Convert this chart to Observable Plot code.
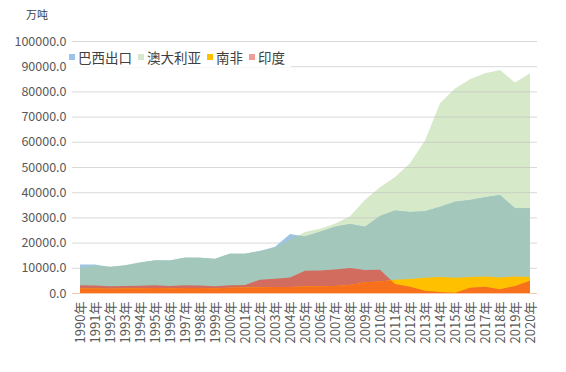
<!DOCTYPE html>
<html>
<head>
<meta charset="utf-8">
<script src="https://cdn.jsdelivr.net/npm/d3@7"></script>
<script src="https://cdn.jsdelivr.net/npm/@observablehq/plot@0.6"></script>
<style>
  body { margin: 0; background: white; }
  #wrap { position: relative; width: 566px; height: 372px; font-family: 'Noto Sans CJK SC', sans-serif; }
  #unit { position: absolute; left: 26px; top: 6px; font-size: 11px; color: #404040; }
  #legend { position: absolute; left: 69px; top: 47px; display: flex; align-items: center; font-size: 13.5px; color: #404040; background: white; }
  #legend span.sw { display: inline-block; width: 6px; height: 6px; margin-right: 3px; }
  #legend span.it { display: inline-flex; align-items: center; margin-right: 6px; }
  g[aria-label^="x-axis"] text { font-size: 13px; }
</style>
</head>
<body>
<div id="wrap">
  <div id="unit">万吨</div>
  <div id="legend"></div>
</div>
<script>
const years = d3.range(1990, 2021);
const brazil = [11300,11300,10300,10900,12000,13000,12900,14000,14000,13500,15600,15600,16700,18400,23400,22400,24300,26300,27400,26300,30600,32700,32100,32400,34200,36200,36900,38000,38900,33600,33700];
const australia = [9800,10700,10500,11100,12300,12900,13000,14200,14100,13700,15700,15700,16700,18000,21000,24200,25500,27500,30500,37000,42000,46000,51500,60500,75300,81200,84800,87200,88500,83500,87200];
const southAfrica = [1800,1800,1700,1800,1900,2000,1900,2000,2000,1900,2100,2200,2300,2400,2400,2600,2700,2800,3200,4300,4600,5300,5600,6100,6300,6100,6300,6500,6200,6500,6300];
const india = [3100,3000,2700,2800,2900,3100,2800,3100,3000,2700,3100,3200,5300,5700,6200,8800,8900,9300,9900,9100,9200,3600,2500,900,400,100,2100,2500,1500,2800,4900];
const seriesNames = ["巴西出口", "澳大利亚", "南非", "印度"];
const legendColors = ["#9dc3e6", "#d5e8cf", "#ffc000", "#f09c98"];
const yTicks = d3.range(0, 100001, 10000);

const rows = years.map((y, i) => ({year: y, br: brazil[i], au: australia[i], sa: southAfrica[i], ind: india[i]}));

const chart = Plot.plot({
  width: 566, height: 372,
  marginLeft: 72, marginRight: 29, marginTop: 41, marginBottom: 79,
  style: {fontFamily: "'Noto Sans CJK SC', sans-serif", fontSize: "12.5px", color: "#595959", background: "white"},
  x: {type: "point", domain: years, padding: 0, label: null, tickFormat: d => d + "年", tickRotate: -90, tickSize: 0, tickPadding: 8},
  y: {domain: [0, 100000], ticks: yTicks, tickFormat: d => d.toFixed(1), label: null, tickSize: 0, tickPadding: 6},
  marks: [
    Plot.areaY(rows, {x: "year", y: "au", fill: "#d6e9c9"}),
    Plot.ruleY(yTicks.filter(d => d > 0), {stroke: "#bfbfbf", strokeOpacity: 0.6}),
    Plot.areaY(rows, {x: "year", y: "br", fill: "#9fc4e0"}),
    Plot.areaY(rows, {x: "year", y: "br", fill: "#a3c8bb"}),
    Plot.areaY(rows, {x: "year", y: "ind", fill: "#d16c5f"}),
    Plot.areaY(rows, {x: "year", y: "sa", fill: "#ffc000"}),
    Plot.areaY(rows, {x: "year", y: "sa", fill: "#f8701c"}),
    Plot.ruleY([0], {stroke: "#f7c9ad"})
  ]
});

const ns = "http://www.w3.org/2000/svg";
const defs = document.createElementNS(ns, "defs");
chart.insertBefore(defs, chart.firstChild);
const areas = chart.querySelectorAll('g[aria-label="area"]');
function clipTo(src, tgt, id) {
  const sp = src && src.querySelector("path");
  if (!sp || !tgt) return;
  const cp = document.createElementNS(ns, "clipPath");
  cp.setAttribute("id", id);
  const p = document.createElementNS(ns, "path");
  p.setAttribute("d", sp.getAttribute("d"));
  cp.appendChild(p);
  defs.appendChild(cp);
  tgt.setAttribute("clip-path", `url(#${id})`);
}
clipTo(areas[0], areas[2], "clip-au");
clipTo(areas[3], areas[5], "clip-ind");

chart.style.position = "absolute";
chart.style.left = "0";
chart.style.top = "0";
const wrap = document.getElementById("wrap");
wrap.insertBefore(chart, wrap.firstChild);

const legend = document.getElementById("legend");
seriesNames.forEach((n, i) => {
  const it = document.createElement("span");
  it.className = "it";
  it.innerHTML = `<span class="sw" style="background:${legendColors[i]}"></span>${n}`;
  legend.appendChild(it);
});
</script>
</body>
</html>
